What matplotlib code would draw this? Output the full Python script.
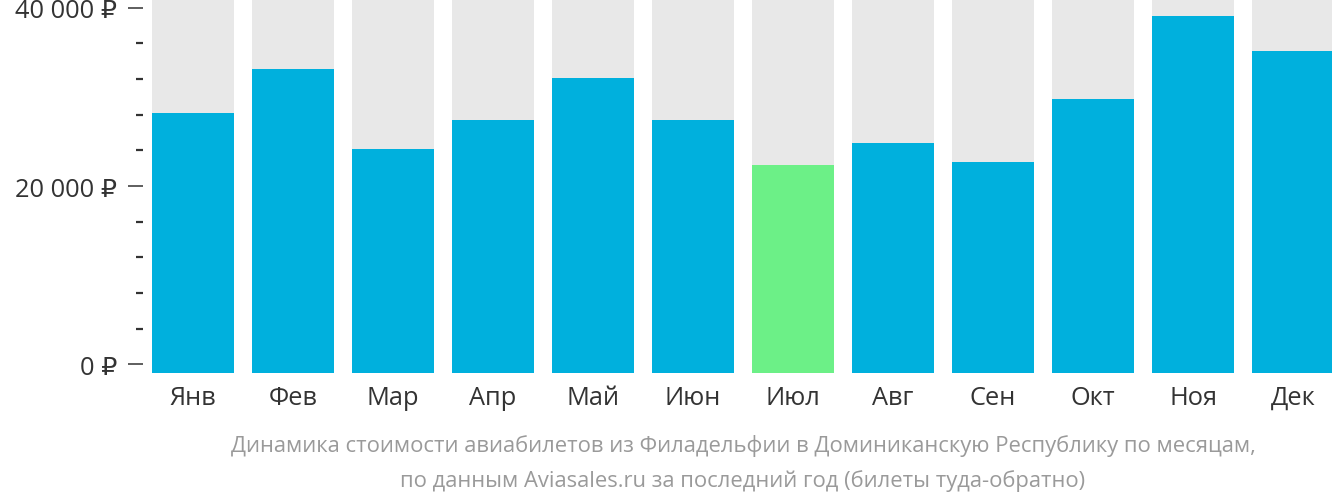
import matplotlib
matplotlib.use("Agg")
import matplotlib.pyplot as plt
from matplotlib.ticker import MultipleLocator, FuncFormatter

months = ["Янв", "Фев", "Мар", "Апр", "Май", "Июн", "Июл", "Авг", "Сен", "Окт", "Ноя", "Дек"]
prices = [28200, 33150, 24150, 27350, 32150, 27450, 22400, 24850, 22650, 29700, 39000, 35100]
highlight = "Июл"
caption = ["Динамика стоимости авиабилетов из Филадельфии в Доминиканскую Республику по месяцам,",
           "по данным Aviasales.ru за последний год (билеты туда-обратно)"]

plt.rcParams['font.family'] = ['Open Sans', 'DejaVu Sans']

W, H = 1332, 502
fig = plt.figure(figsize=(W / 100, H / 100), dpi=100)
ax = fig.add_axes([143 / W, (H - 373.5) / H, 1189 / W, 373.5 / H])

ymin, ymax = -900, 40960
x = list(range(len(months)))
bar_w = 0.82
ax.bar(x, [ymax - ymin] * len(x), bottom=ymin, width=bar_w, color="#E8E8E8", zorder=1)
colors = ["#6CF087" if m == highlight else "#00B0DD" for m in months]
ax.bar(x, [p - ymin for p in prices], bottom=ymin, width=bar_w, color=colors, zorder=2)

ax.set_xlim(-0.5, -0.5 + 11.89)
ax.set_ylim(ymin, ymax)
for s in ax.spines.values():
    s.set_visible(False)

ax.set_xticks(x)
ax.set_xticklabels(months, fontsize=18.3, color="#333333")
ax.tick_params(axis="x", length=0, pad=9)

ax.yaxis.set_major_locator(MultipleLocator(20000))
ax.yaxis.set_minor_locator(MultipleLocator(4000))
ax.yaxis.set_major_formatter(FuncFormatter(lambda v, p: f"{int(v):,}".replace(",", " ") + " ₽"))
ax.tick_params(axis="y", which="major", length=10.8, width=1.1, color="#333333",
               labelsize=18.3, labelcolor="#333333", pad=8)
ax.tick_params(axis="y", which="minor", length=5, width=1.6, color="#333333")
ax.set_yticks([0, 20000, 40000])

cx = (143 + 600) / W
fig.text(cx, 1 - 446.5 / H, caption[0], ha="center", va="center", fontsize=15.8, color="#9A9A9A")
fig.text(cx, 1 - 481 / H, caption[1], ha="center", va="center", fontsize=15.8, color="#9A9A9A")

fig.savefig("out.png", dpi=100)
